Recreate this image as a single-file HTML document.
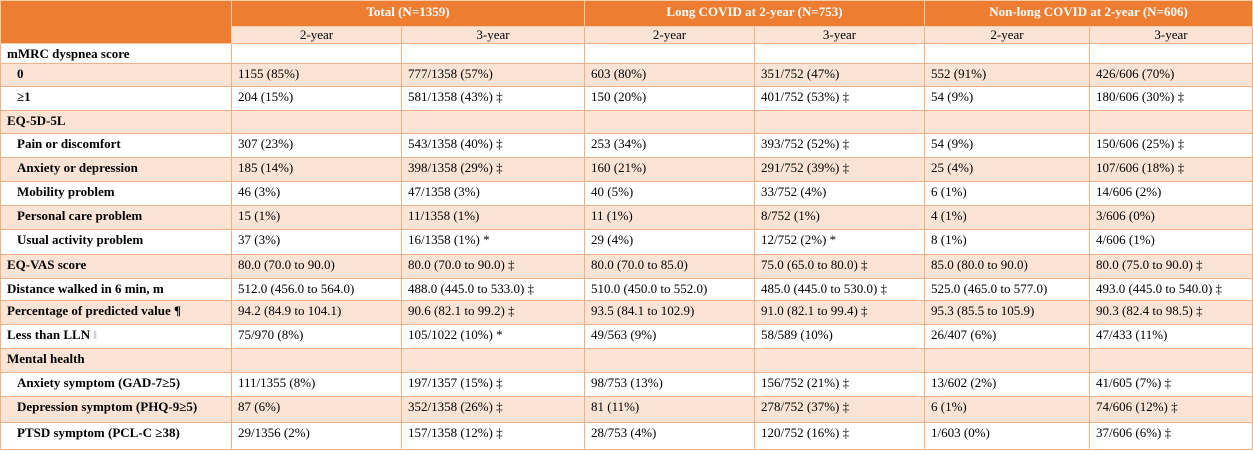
<!DOCTYPE html>
<html><head><meta charset="utf-8"><style>
html,body{margin:0;padding:0;background:#fff;width:1253px;height:451px;overflow:hidden}
table{position:absolute;left:0;top:0;border-collapse:collapse;table-layout:fixed;width:1252px;font-family:"Liberation Serif",serif;font-size:13px;color:#000}
td,th{border:1px solid #F4B183;padding:2px 0 0 6px;vertical-align:top;white-space:nowrap;overflow:hidden;line-height:16px}
th{background:#ED7D31;color:#fff;font-weight:bold;text-align:center;padding:3px 0 0 0;border-color:#F8CBAD}
tr.sub td{background:#FBE4D5;text-align:center;padding:1px 0 0 0;line-height:14px}
tr.p td{background:#FBE4D5}
td.l{font-weight:bold}
td.i{padding-left:16px}
tr.h0 th{border-bottom:none}
</style></head><body>
<table>
<colgroup><col style="width:231px"><col style="width:170px"><col style="width:183px"><col style="width:170px"><col style="width:170px"><col style="width:165px"><col style="width:163px"></colgroup>
<tr style="height:26px"><th rowspan="2"></th><th colspan="2">Total (N=1359)</th><th colspan="2">Long COVID at 2-year (N=753)</th><th colspan="2">Non-long COVID at 2-year (N=606)</th></tr>
<tr class="sub" style="height:17px"><td>2-year</td><td>3-year</td><td>2-year</td><td>3-year</td><td>2-year</td><td>3-year</td></tr>
<tr style="height:20px"><td class="l">mMRC dyspnea score</td><td></td><td></td><td></td><td></td><td></td><td></td></tr>
<tr class="p" style="height:23px"><td class="l i">0</td><td>1155 (85%)</td><td>777/1358 (57%)</td><td>603 (80%)</td><td>351/752 (47%)</td><td>552 (91%)</td><td>426/606 (70%)</td></tr>
<tr style="height:24px"><td class="l i">≥1</td><td>204 (15%)</td><td>581/1358 (43%) ‡</td><td>150 (20%)</td><td>401/752 (53%) ‡</td><td>54 (9%)</td><td>180/606 (30%) ‡</td></tr>
<tr class="p" style="height:23px"><td class="l">EQ-5D-5L</td><td></td><td></td><td></td><td></td><td></td><td></td></tr>
<tr style="height:24px"><td class="l i">Pain or discomfort</td><td>307 (23%)</td><td>543/1358 (40%) ‡</td><td>253 (34%)</td><td>393/752 (52%) ‡</td><td>54 (9%)</td><td>150/606 (25%) ‡</td></tr>
<tr class="p" style="height:24px"><td class="l i">Anxiety or depression</td><td>185 (14%)</td><td>398/1358 (29%) ‡</td><td>160 (21%)</td><td>291/752 (39%) ‡</td><td>25 (4%)</td><td>107/606 (18%) ‡</td></tr>
<tr style="height:24px"><td class="l i">Mobility problem</td><td>46 (3%)</td><td>47/1358 (3%)</td><td>40 (5%)</td><td>33/752 (4%)</td><td>6 (1%)</td><td>14/606 (2%)</td></tr>
<tr class="p" style="height:24px"><td class="l i">Personal care problem</td><td>15 (1%)</td><td>11/1358 (1%)</td><td>11 (1%)</td><td>8/752 (1%)</td><td>4 (1%)</td><td>3/606 (0%)</td></tr>
<tr style="height:25px"><td class="l i">Usual activity problem</td><td>37 (3%)</td><td>16/1358 (1%) *</td><td>29 (4%)</td><td>12/752 (2%) *</td><td>8 (1%)</td><td>4/606 (1%)</td></tr>
<tr class="p" style="height:24px"><td class="l">EQ-VAS score</td><td>80.0 (70.0 to 90.0)</td><td>80.0 (70.0 to 90.0) ‡</td><td>80.0 (70.0 to 85.0)</td><td>75.0 (65.0 to 80.0) ‡</td><td>85.0 (80.0 to 90.0)</td><td>80.0 (75.0 to 90.0) ‡</td></tr>
<tr style="height:22px"><td class="l">Distance walked in 6 min, m</td><td>512.0 (456.0 to 564.0)</td><td>488.0 (445.0 to 533.0) ‡</td><td>510.0 (450.0 to 552.0)</td><td>485.0 (445.0 to 530.0) ‡</td><td>525.0 (465.0 to 577.0)</td><td>493.0 (445.0 to 540.0) ‡</td></tr>
<tr class="p" style="height:24px"><td class="l">Percentage of predicted value ¶</td><td>94.2 (84.9 to 104.1)</td><td>90.6 (82.1 to 99.2) ‡</td><td>93.5 (84.1 to 102.9)</td><td>91.0 (82.1 to 99.4) ‡</td><td>95.3 (85.5 to 105.9)</td><td>90.3 (82.4 to 98.5) ‡</td></tr>
<tr style="height:24px"><td class="l">Less than LLN <span style="color:#aab;font-weight:normal">‖</span></td><td>75/970 (8%)</td><td>105/1022 (10%) *</td><td>49/563 (9%)</td><td>58/589 (10%)</td><td>26/407 (6%)</td><td>47/433 (11%)</td></tr>
<tr class="p" style="height:24px"><td class="l">Mental health</td><td></td><td></td><td></td><td></td><td></td><td></td></tr>
<tr style="height:24px"><td class="l i">Anxiety symptom (GAD-7≥5)</td><td>111/1355 (8%)</td><td>197/1357 (15%) ‡</td><td>98/753 (13%)</td><td>156/752 (21%) ‡</td><td>13/602 (2%)</td><td>41/605 (7%) ‡</td></tr>
<tr class="p" style="height:26px"><td class="l i">Depression symptom (PHQ-9≥5)</td><td>87 (6%)</td><td>352/1358 (26%) ‡</td><td>81 (11%)</td><td>278/752 (37%) ‡</td><td>6 (1%)</td><td>74/606 (12%) ‡</td></tr>
<tr style="height:27px"><td class="l i">PTSD symptom (PCL-C ≥38)</td><td>29/1356 (2%)</td><td>157/1358 (12%) ‡</td><td>28/753 (4%)</td><td>120/752 (16%) ‡</td><td>1/603 (0%)</td><td>37/606 (6%) ‡</td></tr>
</table>
</body></html>
